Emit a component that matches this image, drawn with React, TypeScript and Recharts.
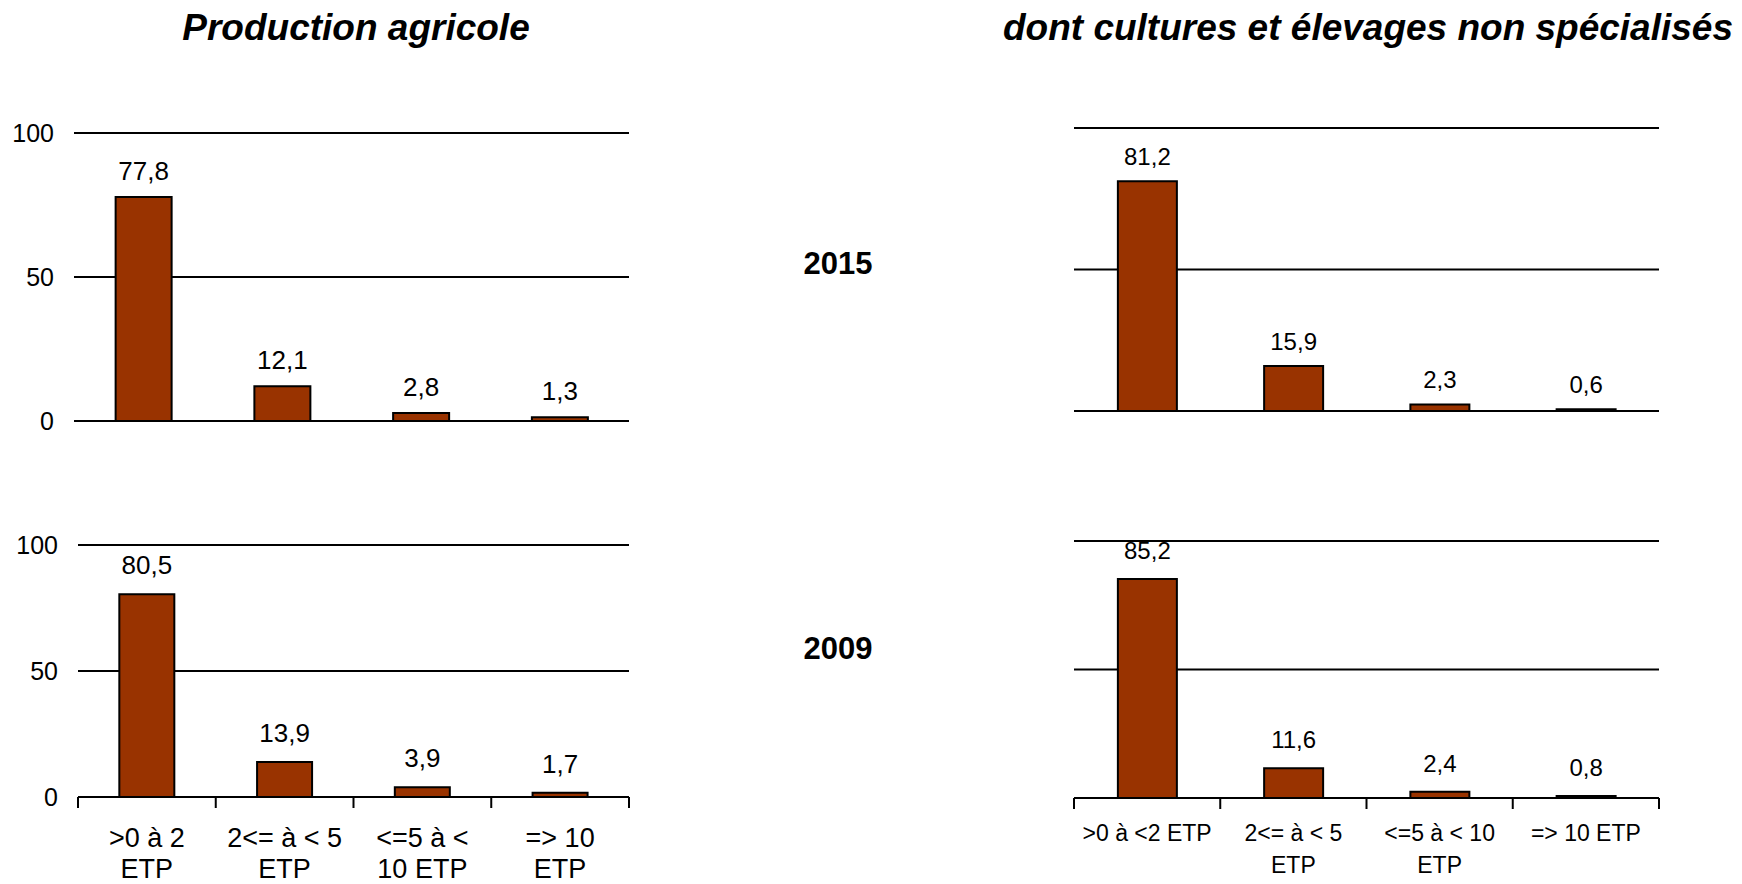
import { BarChart, Bar, XAxis, YAxis, CartesianGrid, LabelList } from "recharts";

const categoriesLeft = [">0 à 2 ETP", "2<= à < 5 ETP", "<=5 à < 10 ETP", "=> 10 ETP"];
const categoriesRight = [">0 à <2 ETP", "2<= à < 5 ETP", "<=5 à < 10 ETP", "=> 10 ETP"];
const tickLinesLeft = [[">0 à 2", "ETP"], ["2<= à < 5", "ETP"], ["<=5 à <", "10 ETP"], ["=> 10", "ETP"]];
const tickLinesRight = [[">0 à <2 ETP"], ["2<= à < 5", "ETP"], ["<=5 à < 10", "ETP"], ["=> 10 ETP"]];

const prod2015 = [77.8, 12.1, 2.8, 1.3];
const prod2009 = [80.5, 13.9, 3.9, 1.7];
const mixed2015 = [81.2, 15.9, 2.3, 0.6];
const mixed2009 = [85.2, 11.6, 2.4, 0.8];

const yTicks = [0, 50, 100];
const years = ["2015", "2009"];
const titles = ["Production agricole", "dont cultures et élevages non spécialisés"];

const FONT = "'Liberation Sans', Arial, sans-serif";
const BAR_COLOR = "#993300";

const toRows = (cats: string[], vals: number[]) => cats.map((c, i) => ({ cat: c, value: vals[i] }));

const fmt = (v: any) => String(v).replace(".", ",");

type PanelProps = {
  left: number;
  top: number;
  width: number;
  height: number;
  margin: { top: number; right: number; bottom: number; left: number };
  rows: { cat: string; value: number }[];
  showY: boolean;
  tickLines?: string[][];
  tickFont?: number;
  firstDy?: number;
  lineHeight?: number;
  labelFont: number;
  labelOffset: number;
};

const makeTick = (lines: string[][], fontSize: number, firstDy: number, lineHeight: number, band: number) =>
  (props: any) => {
    const { x, y, index } = props;
    const lbl = lines[index] || [];
    return (
      <g>
        <line x1={x - band / 2} x2={x - band / 2} y1={y} y2={y + 11} stroke="#000" strokeWidth={2} />
        {index === lines.length - 1 && (
          <line x1={x + band / 2} x2={x + band / 2} y1={y} y2={y + 11} stroke="#000" strokeWidth={2} />
        )}
        <text x={x} y={y} textAnchor="middle" fontSize={fontSize} fill="#000" fontFamily={FONT}>
          {lbl.map((l, i) => (
            <tspan key={i} x={x} dy={i === 0 ? firstDy : lineHeight}>
              {l}
            </tspan>
          ))}
        </text>
      </g>
    );
  };

const Panel = (p: PanelProps) => {
  const yW = p.showY ? 60 : 0;
  const plotW = p.width - p.margin.left - p.margin.right - yW;
  const band = plotW / p.rows.length;
  return (
    <div style={{ position: "absolute", left: p.left, top: p.top }}>
      <BarChart width={p.width} height={p.height} data={p.rows} margin={p.margin} barCategoryGap="30%">
        <CartesianGrid horizontal vertical={false} stroke="#000" strokeWidth={2} horizontalValues={yTicks} />
        {p.tickLines ? (
          <XAxis
            dataKey="cat"
            height={80}
            axisLine={{ stroke: "#000", strokeWidth: 2 }}
            tickLine={false}
            tickSize={0}
            tickMargin={0}
            interval={0}
            tick={makeTick(p.tickLines, p.tickFont || 20, p.firstDy || 40, p.lineHeight || 32, band)}
          />
        ) : (
          <XAxis dataKey="cat" hide />
        )}
        <YAxis
          domain={[0, 100]}
          ticks={yTicks}
          hide={!p.showY}
          width={yW}
          axisLine={false}
          tickLine={false}
          tickMargin={14}
          tick={{ fill: "#000", fontSize: 25, fontFamily: FONT }}
        />
        <Bar dataKey="value" fill={BAR_COLOR} stroke="#000" strokeWidth={2} isAnimationActive={false}>
          <LabelList
            dataKey="value"
            position="top"
            offset={p.labelOffset}
            formatter={fmt}
            style={{ fill: "#000", fontSize: p.labelFont, fontFamily: FONT }}
          />
        </Bar>
      </BarChart>
    </div>
  );
};

const titleStyle: React.CSSProperties = {
  position: "absolute",
  fontFamily: FONT,
  fontWeight: "bold",
  fontStyle: "italic",
  fontSize: 37,
  whiteSpace: "nowrap",
  transform: "translate(-50%, -50%)",
};

const yearStyle: React.CSSProperties = {
  position: "absolute",
  fontFamily: FONT,
  fontWeight: "bold",
  fontSize: 31,
  transform: "translate(-50%, -50%)",
};

export default function App() {
  return (
    <div style={{ position: "absolute", left: 0, top: 0, width: 1742, height: 884, background: "#fff", overflow: "hidden" }}>
      <div style={{ ...titleStyle, left: 356, top: 28 }}>{titles[0]}</div>
      <div style={{ ...titleStyle, left: 1368, top: 28 }}>{titles[1]}</div>
      <div style={{ ...yearStyle, left: 838, top: 264 }}>{years[0]}</div>
      <div style={{ ...yearStyle, left: 838, top: 649 }}>{years[1]}</div>

      <Panel
        left={0}
        top={90}
        width={640}
        height={350}
        margin={{ top: 43, right: 11, bottom: 19, left: 14 }}
        rows={toRows(categoriesLeft, prod2015)}
        showY
        labelFont={26}
        labelOffset={17}
      />
      <Panel
        left={0}
        top={500}
        width={640}
        height={384}
        margin={{ top: 45, right: 11, bottom: 7, left: 18 }}
        rows={toRows(categoriesLeft, prod2009)}
        showY
        tickLines={tickLinesLeft}
        tickFont={27}
        firstDy={50}
        lineHeight={31}
        labelFont={26}
        labelOffset={20}
      />
      <Panel
        left={1000}
        top={90}
        width={742}
        height={350}
        margin={{ top: 38, right: 83, bottom: 29, left: 74 }}
        rows={toRows(categoriesRight, mixed2015)}
        showY={false}
        labelFont={24}
        labelOffset={16}
      />
      <Panel
        left={1000}
        top={500}
        width={742}
        height={384}
        margin={{ top: 41, right: 83, bottom: 6, left: 74 }}
        rows={toRows(categoriesRight, mixed2009)}
        showY={false}
        tickLines={tickLinesRight}
        tickFont={23}
        firstDy={43}
        lineHeight={32}
        labelFont={24}
        labelOffset={20}
      />
    </div>
  );
}
